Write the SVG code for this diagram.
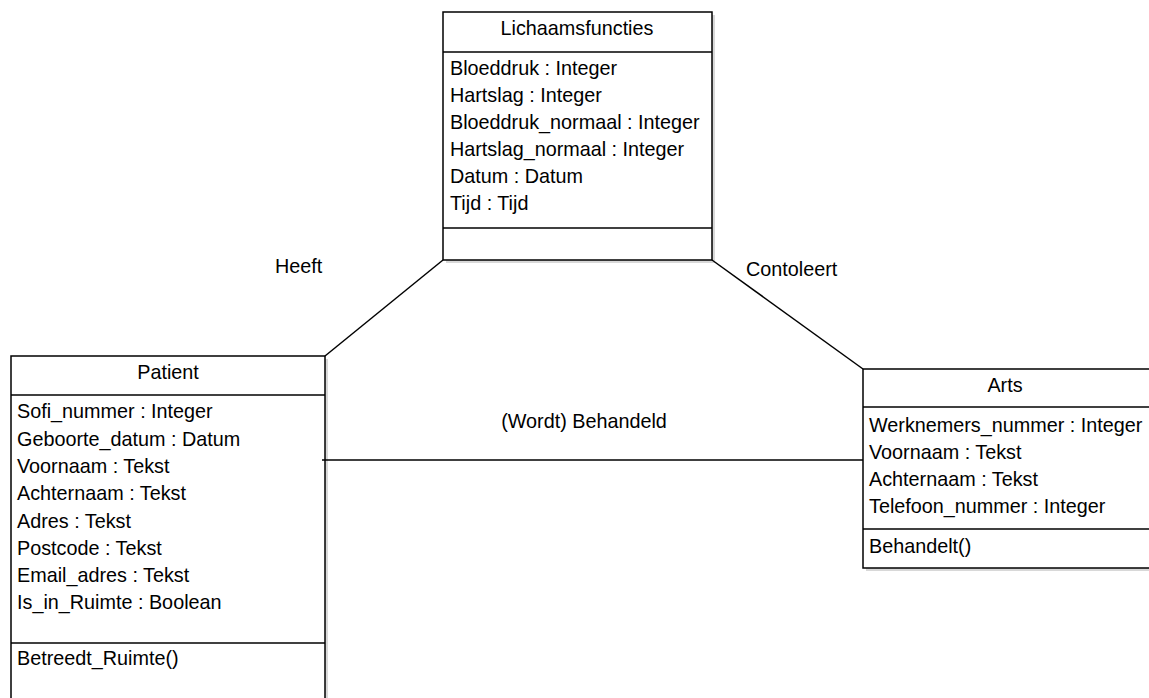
<svg xmlns="http://www.w3.org/2000/svg" width="1149" height="698" viewBox="0 0 1149 698">
<style>
.box{fill:#fff;stroke:#000;stroke-width:1.5}
.sh{fill:#d8d8d8;stroke:none}
.ln{stroke:#000;stroke-width:1.5;fill:none}
text{font-family:"Liberation Sans",Arial,sans-serif;font-size:19.8px;fill:#000}
.c{text-anchor:middle}
</style>
<rect width="1149" height="698" fill="#fff"/>
<g id="lichaamsfuncties">
<rect class="sh" x="446" y="15" width="269" height="248"/>
<rect class="box" x="443" y="12" width="269" height="248"/>
<line class="ln" x1="443" y1="52" x2="712" y2="52"/>
<line class="ln" x1="443" y1="228" x2="712" y2="228"/>
<text class="c" x="577" y="35">Lichaamsfuncties</text>
<text x="450" y="75">Bloeddruk : Integer</text>
<text x="450" y="102">Hartslag : Integer</text>
<text x="450" y="129">Bloeddruk_normaal : Integer</text>
<text x="450" y="156">Hartslag_normaal : Integer</text>
<text x="450" y="183">Datum : Datum</text>
<text x="450" y="210">Tijd : Tijd</text>
</g>
<g id="patient">
<rect class="sh" x="14" y="359" width="314" height="360"/>
<rect class="box" x="11" y="356" width="314" height="360"/>
<line class="ln" x1="11" y1="395" x2="325" y2="395"/>
<line class="ln" x1="11" y1="643" x2="325" y2="643"/>
<text class="c" x="168" y="379">Patient</text>
<text x="17" y="418">Sofi_nummer : Integer</text>
<text x="17" y="446">Geboorte_datum : Datum</text>
<text x="17" y="473">Voornaam : Tekst</text>
<text x="17" y="500">Achternaam : Tekst</text>
<text x="17" y="528">Adres : Tekst</text>
<text x="17" y="555">Postcode : Tekst</text>
<text x="17" y="582">Email_adres : Tekst</text>
<text x="17" y="609">Is_in_Ruimte : Boolean</text>
<text x="17" y="665">Betreedt_Ruimte()</text>
</g>
<g id="arts">
<rect class="sh" x="866" y="372" width="300" height="199"/>
<rect class="box" x="863" y="369" width="300" height="199"/>
<line class="ln" x1="863" y1="407" x2="1163" y2="407"/>
<line class="ln" x1="863" y1="529" x2="1163" y2="529"/>
<text class="c" x="1005" y="392">Arts</text>
<text x="869" y="432">Werknemers_nummer : Integer</text>
<text x="869" y="459">Voornaam : Tekst</text>
<text x="869" y="486">Achternaam : Tekst</text>
<text x="869" y="513">Telefoon_nummer : Integer</text>
<text x="869" y="553">Behandelt()</text>
</g>
<g id="connectors">
<line class="ln" x1="443" y1="260" x2="325" y2="356"/>
<line class="ln" x1="712" y1="260" x2="863" y2="369"/>
<line class="ln" x1="322" y1="460" x2="863" y2="460"/>
<text x="275" y="273">Heeft</text>
<text x="746" y="276">Contoleert</text>
<text class="c" x="584" y="428">(Wordt) Behandeld</text>
</g>
</svg>
